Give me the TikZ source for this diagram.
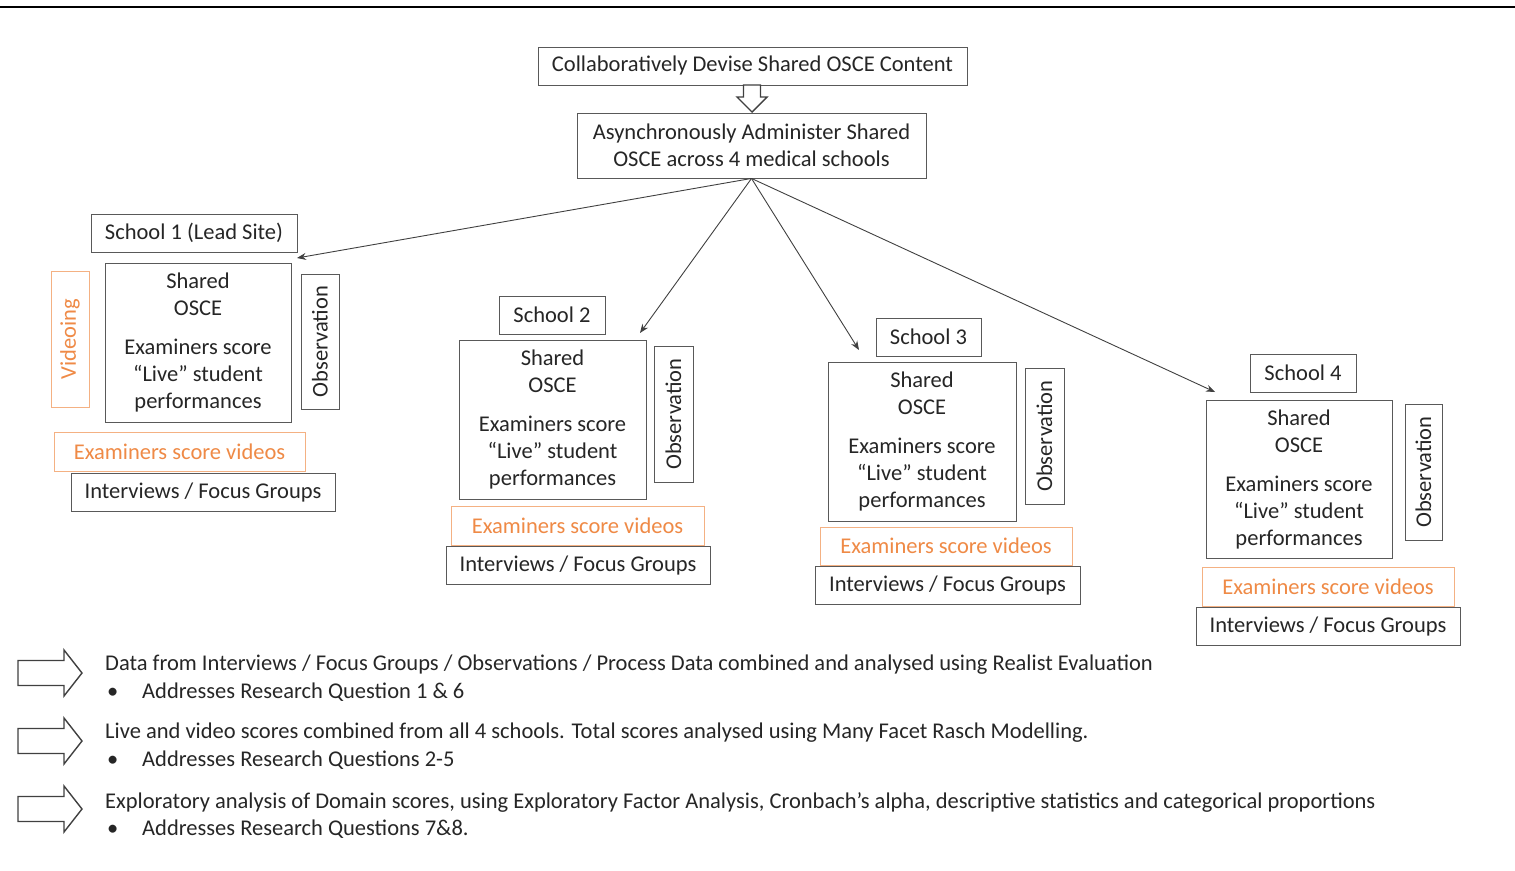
\documentclass[tikz,border=0pt]{standalone}
\usepackage{fontspec}
\setmainfont{Carlito}
\usetikzlibrary{arrows.meta,positioning}
\definecolor{osceorange}{RGB}{237,125,49}
\tikzset{
    box/.style={draw=black!65,line width=0.9pt,fill=white,inner sep=0pt,
      align=center,text=black!85},
    obox/.style={box,draw=osceorange!60,text=osceorange!90},
    sidebox/.style={box,rotate=90},
    hollow/.style={draw=black!75,line width=1.4pt,fill=white},
    link/.style={draw=black!75,line width=0.9pt,-{Stealth[length=9pt,width=7pt]}},
    note/.style={anchor=west,inner sep=0pt,text=black!85}
}

\begin{document}
\begin{tikzpicture}[x=1pt,y=-1pt,font=\fontsize{22.5}{27}\selectfont]
    \useasboundingbox (0,0) rectangle (1515,870);
    \draw[line width=2.5pt] (0,7) -- (1515,7);

    \node[box,minimum width=429pt,minimum height=38pt] (content) at (752.5,66)
      {Collaboratively Devise Shared OSCE Content};
    \node[box,minimum width=349pt,minimum height=65pt] (async) at (751.5,145.5)
      {Asynchronously Administer Shared\\OSCE across 4 medical schools};
    \draw[hollow] (743.5,85) -- (760.5,85) -- (760.5,97) -- (767,97) -- (752,112)
      -- (737,97) -- (743.5,97) -- cycle;

    % school 1
    \node[box,minimum width=206pt,minimum height=38pt] (s1lab) at (194,233) {School 1 (Lead Site)};
    \node[box,minimum width=186pt,minimum height=159pt] (s1main) at (198,342.5)
      {Shared\\OSCE\\[12pt]Examiners score\\“Live” student\\performances};
    \node[sidebox,draw=osceorange!60,text=osceorange!90,minimum width=136pt,minimum height=38pt]
      (s1vid) at (70,339) {Videoing};
    \node[sidebox,minimum width=135pt,minimum height=38pt] (s1obs) at (320,341.5) {Observation};
    \node[obox,minimum width=251pt,minimum height=39pt] (s1esv) at (179.5,451.5) {Examiners score videos};
    \node[box,minimum width=264pt,minimum height=38pt] (s1ifg) at (203,492) {Interviews / Focus Groups};

    % school 2
    \node[box,minimum width=106pt,minimum height=38pt] (s2lab) at (552,315) {School 2};
    \node[box,minimum width=187pt,minimum height=159pt] (s2main) at (552.5,419.5)
      {Shared\\OSCE\\[12pt]Examiners score\\“Live” student\\performances};
    \node[sidebox,minimum width=136pt,minimum height=39pt] (s2obs) at (673.5,414) {Observation};
    \node[obox,minimum width=253pt,minimum height=39pt] (s2esv) at (577.5,525.5) {Examiners score videos};
    \node[box,minimum width=264pt,minimum height=38pt] (s2ifg) at (578,565) {Interviews / Focus Groups};

    % school 3
    \node[box,minimum width=105pt,minimum height=38pt] (s3lab) at (928.5,337) {School 3};
    \node[box,minimum width=188pt,minimum height=159pt] (s3main) at (922,441.5)
      {Shared\\OSCE\\[12pt]Examiners score\\“Live” student\\performances};
    \node[sidebox,minimum width=136pt,minimum height=39pt] (s3obs) at (1044.5,436) {Observation};
    \node[obox,minimum width=252pt,minimum height=38pt] (s3esv) at (946,546) {Examiners score videos};
    \node[box,minimum width=265pt,minimum height=38pt] (s3ifg) at (947.5,585) {Interviews / Focus Groups};

    % school 4
    \node[box,minimum width=106pt,minimum height=38pt] (s4lab) at (1303,373) {School 4};
    \node[box,minimum width=186pt,minimum height=158pt] (s4main) at (1299,479)
      {Shared\\OSCE\\[12pt]Examiners score\\“Live” student\\performances};
    \node[sidebox,minimum width=136pt,minimum height=37pt] (s4obs) at (1423.5,472) {Observation};
    \node[obox,minimum width=252pt,minimum height=39pt] (s4esv) at (1328,586.5) {Examiners score videos};
    \node[box,minimum width=264pt,minimum height=38pt] (s4ifg) at (1328,626) {Interviews / Focus Groups};

    \coordinate (a1) at (297,258);
    \coordinate (a2) at (640,333);
    \coordinate (a3) at (859,350);
    \coordinate (a4) at (1215,392);
    \foreach \t in {a1,a2,a3,a4}
      \draw[link] (async.south) -- (\t);

    % analyses
    \foreach \y in {673,741,809}
      \draw[hollow] (18,\y-12.5) -- (64,\y-12.5) -- (64,\y-23) -- (82,\y) -- (64,\y+23)
        -- (64,\y+12.5) -- (18,\y+12.5) -- cycle;
    \node[note] (d1) at (105,665) {Data from Interviews / Focus Groups / Observations / Process Data combined and analysed using Realist Evaluation};
    \node[note] (d1b) at (105,692) {\makebox[37pt][l]{\hspace{2pt}•}Addresses Research Question 1 \& 6};
    \node[note] (d2) at (105,733) {Live and video scores combined from all 4 schools. Total scores analysed using Many Facet Rasch Modelling.};
    \node[note] (d2b) at (105,760) {\makebox[37pt][l]{\hspace{2pt}•}Addresses Research Questions 2-5};
    \node[note] (d3) at (105,802) {Exploratory analysis of Domain scores, using Exploratory Factor Analysis, Cronbach’s alpha, descriptive statistics and categorical proportions};
    \node[note] (d3b) at (105,829) {\makebox[37pt][l]{\hspace{2pt}•}Addresses Research Questions 7\&8.};
\end{tikzpicture}
\end{document}
